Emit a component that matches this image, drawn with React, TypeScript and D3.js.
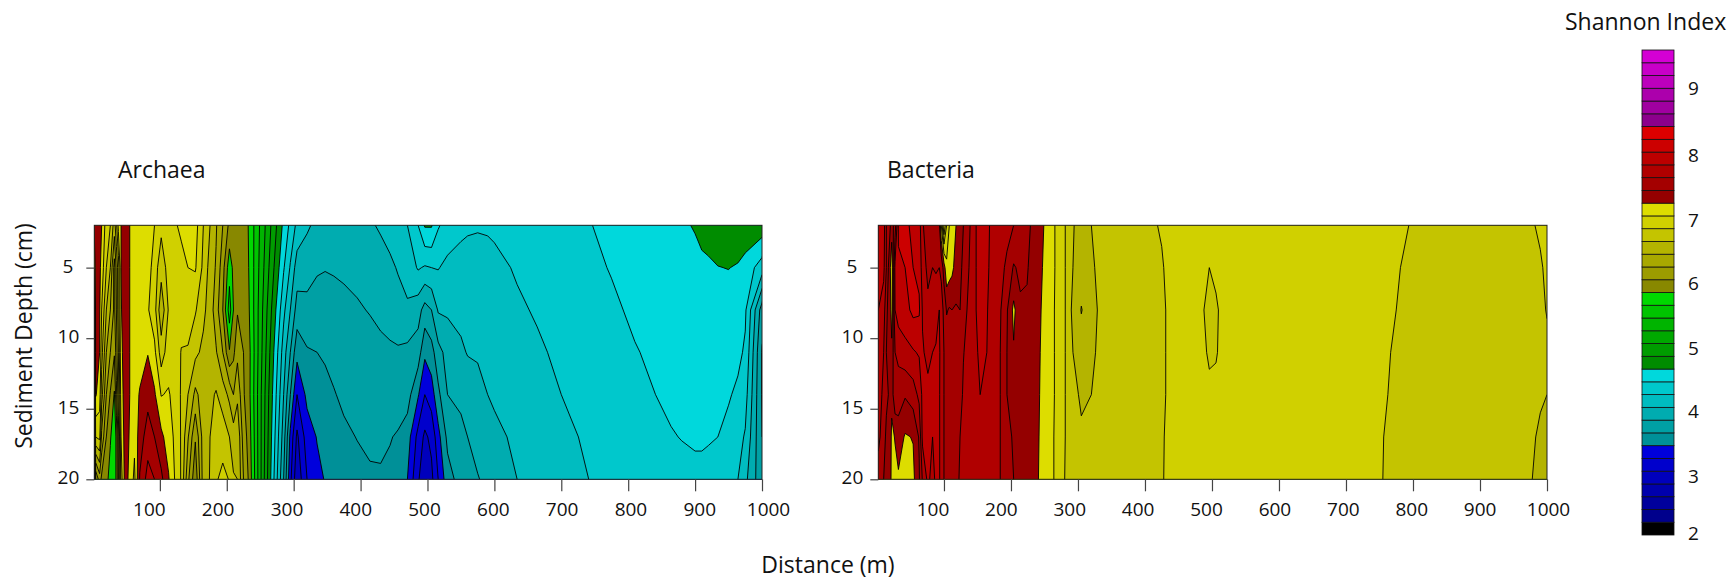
import { useEffect, useRef } from "react";
import * as d3 from "d3";

const FONT = "'Open Sans', sans-serif";

const depths = [2, 5, 8, 11, 14, 17, 20];
const distanceTicks = [100, 200, 300, 400, 500, 600, 700, 800, 900, 1000];
const depthTicks = [5, 10, 15, 20];
const legendTicks = [2, 3, 4, 5, 6, 7, 8, 9];
// the legend numbers sit a little off their levels in the reference
const legendNudge = [-2, 5, 4, 5, 4, 4, 3, 0];

const bandColors = [
  "#000000",
  "#00008c", "#00009c", "#0000ac", "#0000bc", "#0000cc", "#0000dc",
  "#009098", "#00a0a4", "#00acb0", "#00bcc0", "#00c8cc", "#00d8dc",
  "#008c00", "#009c00", "#00a800", "#00b400", "#00c400", "#00d800",
  "#888800", "#9c9c00", "#a8a800", "#b4b400", "#c4c400", "#d0d000", "#dddd00",
  "#940000", "#a40000", "#b00000", "#bc0000", "#cc0000", "#dc0000",
  "#8c008c", "#a000a0", "#ac00ac", "#bc00bc", "#c800c8", "#d400d4",
];
const levels = bandColors.map((_, i) => +(2 + i * 0.2).toFixed(1));

// each row below is one distance, its values run down the depths
const archaeaDistance = [
  2, 4, 10, 13, 20, 26, 32, 35, 38, 42, 48, 55, 62, 70, 82, 92, 102, 113, 122, 132, 142, 153, 165, 175, 184, 194, 204,
  210, 216, 225, 232, 285, 295, 305, 320, 335, 347, 360, 375, 395, 414, 430, 444, 456, 470, 486, 496, 506, 516, 530,
  550, 560, 575, 590, 600, 634, 664, 700, 741, 775, 810, 864, 880, 900, 910, 920, 934, 950, 964, 975, 1000,
];
const archaeaValues = [
  [7.25, 7.0, 6.2, 5.6, 5.0, 4.2, 3.5],
  [7.3, 7.3, 7.3, 7.25, 7.22, 6.8, 5.8],
  [7.25, 7.25, 7.22, 7.2, 7.1, 6.85, 6.1],
  [7.2, 7.12, 7.0, 6.88, 6.68, 6.35, 5.95],
  [6.9, 6.8, 6.6, 6.4, 6.2, 6.0, 5.86],
  [6.8, 6.6, 6.4, 6.2, 5.98, 5.82, 5.72],
  [6.5, 6.12, 6.15, 6.02, 5.78, 5.65, 5.65],
  [6.75, 6.45, 6.4, 6.3, 6.15, 5.85, 5.85],
  [7.05, 6.7, 6.7, 6.6, 6.5, 6.3, 6.2],
  [7.2, 7.2, 7.18, 7.15, 7.1, 7.0, 6.9],
  [7.35, 7.35, 7.35, 7.3, 7.3, 7.3, 7.28],
  [7.2, 7.2, 7.2, 7.2, 7.2, 7.18, 7.15],
  [7.12, 7.12, 7.12, 7.12, 7.1, 7.05, 6.95],
  [7.1, 7.1, 7.1, 7.1, 7.22, 7.3, 7.42],
  [7.1, 7.1, 7.02, 7.19, 7.33, 7.5, 7.68],
  [7.0, 6.9, 6.88, 7.05, 7.23, 7.4, 7.6],
  [6.85, 6.68, 6.45, 6.7, 6.99, 7.25, 7.45],
  [6.95, 6.88, 6.82, 6.9, 7.02, 7.1, 7.22],
  [6.98, 6.95, 6.92, 6.92, 6.93, 6.97, 7.0],
  [7.03, 6.95, 6.88, 6.79, 6.78, 6.78, 6.78],
  [7.1, 7.0, 6.9, 6.78, 6.6, 6.42, 6.25],
  [7.08, 7.02, 6.82, 6.65, 6.35, 6.02, 5.85],
  [6.8, 6.75, 6.65, 6.55, 6.5, 6.5, 6.5],
  [6.6, 6.52, 6.5, 6.5, 6.55, 6.6, 6.61],
  [6.42, 6.38, 6.3, 6.42, 6.62, 6.72, 6.78],
  [6.2, 6.08, 6.0, 6.2, 6.5, 6.72, 6.85],
  [5.95, 5.68, 5.5, 5.82, 6.35, 6.6, 6.79],
  [5.9, 5.85, 5.8, 5.95, 6.2, 6.5, 6.62],
  [5.88, 5.9, 5.98, 6.15, 6.35, 6.58, 6.6],
  [5.85, 5.85, 5.97, 6.0, 6.02, 6.1, 6.2],
  [5.8, 5.82, 5.85, 5.9, 5.9, 5.95, 6.0],
  [4.55, 4.42, 4.25, 4.1, 4.0, 3.9, 3.8],
  [4.35, 4.18, 4.0, 3.8, 3.6, 3.35, 3.25],
  [4.15, 3.9, 3.72, 3.46, 3.2, 2.96, 2.85],
  [4.03, 3.88, 3.74, 3.58, 3.45, 3.3, 3.2],
  [3.95, 3.82, 3.72, 3.6, 3.5, 3.41, 3.35],
  [3.93, 3.81, 3.7, 3.63, 3.53, 3.46, 3.41],
  [3.93, 3.82, 3.72, 3.65, 3.59, 3.5, 3.44],
  [3.93, 3.85, 3.72, 3.67, 3.63, 3.57, 3.5],
  [3.95, 3.85, 3.78, 3.7, 3.65, 3.605, 3.55],
  [3.97, 3.87, 3.81, 3.73, 3.67, 3.62, 3.585],
  [4.03, 3.9, 3.83, 3.77, 3.69, 3.625, 3.585],
  [4.1, 3.95, 3.85, 3.78, 3.7, 3.61, 3.56],
  [4.15, 4.02, 3.9, 3.78, 3.7, 3.58, 3.5],
  [4.2, 4.08, 3.97, 3.75, 3.68, 3.5, 3.4],
  [4.4, 4.22, 3.88, 3.7, 3.42, 3.13, 3.02],
  [4.62, 4.18, 3.72, 3.44, 3.2, 2.96, 2.88],
  [4.62, 4.2, 3.8, 3.52, 3.3, 3.05, 2.95],
  [4.42, 4.21, 4.02, 3.73, 3.55, 3.33, 3.2],
  [4.32, 4.15, 4.03, 3.87, 3.8, 3.65, 3.52],
  [4.25, 4.12, 4.05, 3.97, 3.85, 3.74, 3.68],
  [4.225, 4.125, 4.07, 4.01, 3.9, 3.8, 3.74],
  [4.215, 4.13, 4.08, 4.02, 3.94, 3.86, 3.79],
  [4.22, 4.14, 4.09, 4.05, 4.0, 3.92, 3.84],
  [4.235, 4.15, 4.1, 4.07, 4.03, 3.95, 3.87],
  [4.28, 4.22, 4.17, 4.12, 4.08, 4.04, 4.0],
  [4.32, 4.27, 4.22, 4.17, 4.12, 4.08, 4.05],
  [4.36, 4.32, 4.28, 4.24, 4.2, 4.15, 4.1],
  [4.39, 4.36, 4.33, 4.29, 4.26, 4.23, 4.2],
  [4.45, 4.41, 4.37, 4.34, 4.31, 4.28, 4.26],
  [4.5, 4.47, 4.43, 4.39, 4.36, 4.33, 4.3],
  [4.55, 4.52, 4.49, 4.46, 4.43, 4.39, 4.34],
  [4.58, 4.54, 4.5, 4.47, 4.44, 4.405, 4.35],
  [4.61, 4.56, 4.52, 4.49, 4.46, 4.42, 4.36],
  [4.65, 4.565, 4.525, 4.49, 4.46, 4.42, 4.36],
  [4.68, 4.57, 4.53, 4.5, 4.47, 4.41, 4.36],
  [4.72, 4.595, 4.55, 4.51, 4.46, 4.4, 4.33],
  [4.78, 4.605, 4.5, 4.52, 4.42, 4.34, 4.28],
  [4.76, 4.58, 4.5, 4.45, 4.36, 4.27, 4.2],
  [4.75, 4.52, 4.43, 4.37, 4.28, 4.18, 4.05],
  [4.72, 4.3, 3.7, 3.58, 3.58, 3.6, 3.65],
];

const bacteriaDistance = [
  2, 10, 14, 20, 22, 27, 32, 42, 54, 63, 68, 76, 83, 88, 93, 96, 100, 104, 108, 112, 118, 124, 129, 139, 148, 154, 164,
  168, 184, 194, 204, 214, 224, 229, 241, 249, 264, 281, 290, 305, 320, 330, 360, 400, 425, 440, 470, 488, 496, 506,
  515, 600, 700, 750, 775, 800, 900, 978, 990, 1000,
];
const bacteriaValues = [
  [7.9, 7.8, 7.8, 7.75, 7.7, 7.65, 7.5],
  [7.9, 7.85, 7.7, 7.6, 7.55, 7.5, 7.4],
  [7.6, 7.6, 7.45, 7.4, 7.45, 7.35, 7.32],
  [7.4, 7.2, 7.25, 7.3, 7.35, 7.35, 7.3],
  [7.3, 7.05, 7.1, 7.25, 7.3, 7.12, 7.1],
  [7.5, 7.85, 7.8, 7.6, 7.55, 7.22, 7.1],
  [8.02, 7.98, 7.9, 7.65, 7.5, 7.3, 7.17],
  [8.05, 8.0, 7.93, 7.73, 7.42, 7.18, 7.05],
  [7.95, 8.0, 8.05, 7.78, 7.5, 7.21, 7.15],
  [7.9, 7.95, 8.03, 7.82, 7.65, 7.42, 7.38],
  [7.62, 7.7, 7.78, 7.82, 7.85, 7.85, 7.62],
  [7.5, 7.55, 7.65, 7.75, 7.85, 7.85, 7.85],
  [7.55, 7.6, 7.7, 7.8, 7.85, 7.8, 7.72],
  [7.55, 7.58, 7.72, 7.82, 7.85, 7.85, 7.85],
  [7.45, 7.6, 7.8, 7.83, 7.82, 7.82, 7.82],
  [7.0, 7.55, 7.7, 7.72, 7.72, 7.72, 7.72],
  [6.4, 7.3, 7.55, 7.6, 7.6, 7.6, 7.6],
  [6.8, 7.05, 7.38, 7.55, 7.55, 7.55, 7.55],
  [7.0, 7.1, 7.42, 7.5, 7.5, 7.5, 7.5],
  [7.05, 7.15, 7.4, 7.52, 7.5, 7.5, 7.5],
  [7.2, 7.28, 7.42, 7.5, 7.5, 7.5, 7.52],
  [7.32, 7.35, 7.4, 7.47, 7.52, 7.6, 7.63],
  [7.4, 7.45, 7.52, 7.59, 7.63, 7.66, 7.68],
  [7.6, 7.63, 7.67, 7.7, 7.72, 7.72, 7.72],
  [7.8, 7.8, 7.8, 7.78, 7.76, 7.74, 7.73],
  [7.88, 7.87, 7.86, 7.83, 7.8, 7.76, 7.74],
  [7.83, 7.83, 7.82, 7.8, 7.76, 7.72, 7.7],
  [7.8, 7.79, 7.75, 7.73, 7.72, 7.7, 7.68],
  [7.72, 7.68, 7.62, 7.6, 7.6, 7.6, 7.6],
  [7.68, 7.55, 7.42, 7.4, 7.4, 7.45, 7.5],
  [7.6, 7.38, 7.15, 7.22, 7.32, 7.38, 7.4],
  [7.52, 7.44, 7.37, 7.33, 7.33, 7.33, 7.33],
  [7.44, 7.42, 7.37, 7.33, 7.3, 7.3, 7.3],
  [7.4, 7.36, 7.32, 7.3, 7.28, 7.27, 7.27],
  [7.27, 7.26, 7.24, 7.23, 7.22, 7.21, 7.2],
  [7.2, 7.18, 7.16, 7.14, 7.13, 7.12, 7.11],
  [7.02, 7.02, 7.01, 7.01, 7.01, 7.0, 7.0],
  [6.8, 6.8, 6.8, 6.8, 6.8, 6.8, 6.79],
  [6.62, 6.62, 6.6, 6.62, 6.65, 6.68, 6.7],
  [6.55, 6.5, 6.39, 6.5, 6.58, 6.62, 6.65],
  [6.6, 6.56, 6.52, 6.55, 6.6, 6.66, 6.7],
  [6.66, 6.64, 6.61, 6.63, 6.66, 6.7, 6.72],
  [6.7, 6.7, 6.68, 6.68, 6.7, 6.72, 6.74],
  [6.77, 6.74, 6.73, 6.73, 6.74, 6.76, 6.77],
  [6.81, 6.79, 6.78, 6.78, 6.78, 6.79, 6.79],
  [6.86, 6.84, 6.83, 6.83, 6.83, 6.83, 6.84],
  [6.88, 6.86, 6.84, 6.84, 6.85, 6.86, 6.87],
  [6.87, 6.84, 6.8, 6.82, 6.84, 6.86, 6.87],
  [6.86, 6.8, 6.73, 6.78, 6.83, 6.85, 6.86],
  [6.86, 6.83, 6.78, 6.79, 6.83, 6.85, 6.86],
  [6.87, 6.85, 6.83, 6.83, 6.85, 6.86, 6.87],
  [6.9, 6.89, 6.88, 6.88, 6.88, 6.88, 6.88],
  [6.85, 6.84, 6.84, 6.84, 6.84, 6.84, 6.84],
  [6.85, 6.84, 6.83, 6.82, 6.82, 6.81, 6.81],
  [6.83, 6.81, 6.8, 6.79, 6.78, 6.77, 6.76],
  [6.79, 6.77, 6.75, 6.74, 6.73, 6.72, 6.71],
  [6.72, 6.7, 6.7, 6.69, 6.69, 6.68, 6.68],
  [6.78, 6.75, 6.72, 6.7, 6.66, 6.63, 6.6],
  [6.84, 6.77, 6.72, 6.68, 6.63, 6.56, 6.52],
  [6.92, 6.85, 6.82, 6.72, 6.6, 6.55, 6.48],
];

type PanelProps = {
  title: string;
  titleX: number;
  distance: number[];
  values: number[][];
  left: number;
  right: number;
  labelShift: number[];
};

const TOP = 225.3;
const BOTTOM = 479.3;
const TICK_COLOR = "#444";
const TEXT_COLOR = "#111";
const TICK_FONT_SIZE = 19;
const TITLE_FONT_SIZE = 23;

function AxisBottom({ scale, y, labelShift }: { scale: any; y: number; labelShift: number[] }) {
  const ref = useRef<SVGGElement>(null);
  useEffect(() => {
    const g = d3.select(ref.current);
    g.call(d3.axisBottom(scale).tickValues(distanceTicks).tickSize(12).tickPadding(11).tickFormat(d3.format("d")) as any);
    g.select(".domain").remove();
    g.selectAll("line").attr("stroke", TICK_COLOR).attr("stroke-width", 1.2);
    // labels in the reference drift away from their ticks along the axis
    const shift = d3.scaleLinear().domain([100, 1000]).range(labelShift);
    g.selectAll("text")
      .attr("font-family", FONT)
      .attr("font-size", TICK_FONT_SIZE)
      .attr("fill", TEXT_COLOR)
      .attr("dx", (d: any) => shift(d));
  }, [scale, labelShift]);
  return <g ref={ref} transform={`translate(0,${y})`} />;
}

function AxisLeft({ scale, x }: { scale: any; x: number }) {
  const ref = useRef<SVGGElement>(null);
  useEffect(() => {
    const g = d3.select(ref.current);
    g.call(d3.axisLeft(scale).tickValues(depthTicks).tickSize(8).tickPadding(7).tickFormat(d3.format("d")) as any);
    g.select(".domain").remove();
    g.selectAll("line").attr("stroke", TICK_COLOR).attr("stroke-width", 1.2);
    g.selectAll("text")
      .attr("font-family", FONT)
      .attr("font-size", TICK_FONT_SIZE)
      .attr("fill", TEXT_COLOR)
      .attr("dx", (d: any) => (d === 5 ? -6 : 0))
      .attr("y", -1.5);
  }, [scale]);
  return <g ref={ref} transform={`translate(${x},0)`} />;
}

function ContourPanel({ title, titleX, distance, values, left, right, labelShift }: PanelProps) {
  const nx = distance.length;
  const ny = depths.length;
  const scaleX = d3.scaleLinear().domain([2, 1000]).range([left, right]);
  const scaleY = d3.scaleLinear().domain([2, 20]).range([TOP, BOTTOM]);

  // the grid is uneven, so grid index -> data value -> pixel
  const indexX = d3.scaleLinear().domain(distance.map((_, i) => i + 0.5)).range(distance);
  const indexY = d3.scaleLinear().domain(depths.map((_, i) => i + 0.5)).range(depths);

  const flat: number[] = [];
  depths.forEach((_, j) => distance.forEach((_, i) => flat.push(values[i][j])));

  const bands = d3.contours().size([nx, ny]).thresholds(levels)(flat);
  const path = d3.geoPath();
  const clipId = `clip-${title}`;

  const toPixels = (coordinates: number[][][][]) =>
    coordinates.map((polygon) =>
      polygon.map((ring) => ring.map(([x, y]) => [scaleX(indexX(x)), scaleY(indexY(y))]))
    );

  return (
    <g>
      <clipPath id={clipId}>
        <rect x={left} y={TOP} width={right - left} height={BOTTOM - TOP} />
      </clipPath>
      <g clipPath={`url(#${clipId})`}>
        <rect x={left} y={TOP} width={right - left} height={BOTTOM - TOP} fill={bandColors[0]} />
        {bands.map((band, i) =>
          band.coordinates.length ? (
            <path
              key={i}
              d={path({ type: "MultiPolygon", coordinates: toPixels(band.coordinates as any) } as any) || ""}
              fill={bandColors[i]}
              fillRule="evenodd"
              stroke="#000"
              strokeWidth={0.9}
              strokeLinejoin="round"
            />
          ) : null
        )}
      </g>
      <rect x={left} y={TOP} width={right - left} height={BOTTOM - TOP} fill="none" stroke="#222" strokeWidth={1} />
      <AxisBottom scale={scaleX} y={BOTTOM} labelShift={labelShift} />
      <AxisLeft scale={scaleY} x={left} />
      <text x={titleX} y={177.5} fontFamily={FONT} fontSize={TITLE_FONT_SIZE} fill={TEXT_COLOR}>
        {title}
      </text>
    </g>
  );
}

function Legend() {
  const x = 1642;
  const width = 32;
  const scale = d3.scaleLinear().domain([2, 9.6]).range([535, 50]);
  return (
    <g>
      {levels.map((level, i) => (
        <rect
          key={level}
          x={x}
          y={scale(level + 0.2)}
          width={width}
          height={scale(level) - scale(level + 0.2)}
          fill={bandColors[i]}
          stroke="#111"
          strokeWidth={0.8}
        />
      ))}
      {legendTicks.map((tick, i) => (
        <text
          key={tick}
          x={1688}
          y={scale(tick) + legendNudge[i]}
          dy="0.35em"
          fontFamily={FONT}
          fontSize={TICK_FONT_SIZE}
          fill={TEXT_COLOR}
        >
          {tick}
        </text>
      ))}
      <text x={1565} y={30} fontFamily={FONT} fontSize={TITLE_FONT_SIZE} fill={TEXT_COLOR}>
        Shannon Index
      </text>
    </g>
  );
}

export default function App() {
  return (
    <svg width={1731} height={579} style={{ position: "absolute", left: 0, top: 0, background: "#fff" }}>
      <ContourPanel
        title="Archaea"
        titleX={118}
        distance={archaeaDistance}
        values={archaeaValues}
        left={94.3}
        right={762}
        labelShift={[-11, 6]}
      />
      <ContourPanel
        title="Bacteria"
        titleX={887}
        distance={bacteriaDistance}
        values={bacteriaValues}
        left={878.3}
        right={1547}
        labelShift={[-11.5, 1]}
      />
      <Legend />
      <text
        transform="translate(32,336) rotate(-90)"
        textAnchor="middle"
        fontFamily={FONT}
        fontSize={TITLE_FONT_SIZE}
        fill={TEXT_COLOR}
      >
        Sediment Depth (cm)
      </text>
      <text x={828} y={572.5} textAnchor="middle" fontFamily={FONT} fontSize={TITLE_FONT_SIZE} fill={TEXT_COLOR}>
        Distance (m)
      </text>
    </svg>
  );
}
